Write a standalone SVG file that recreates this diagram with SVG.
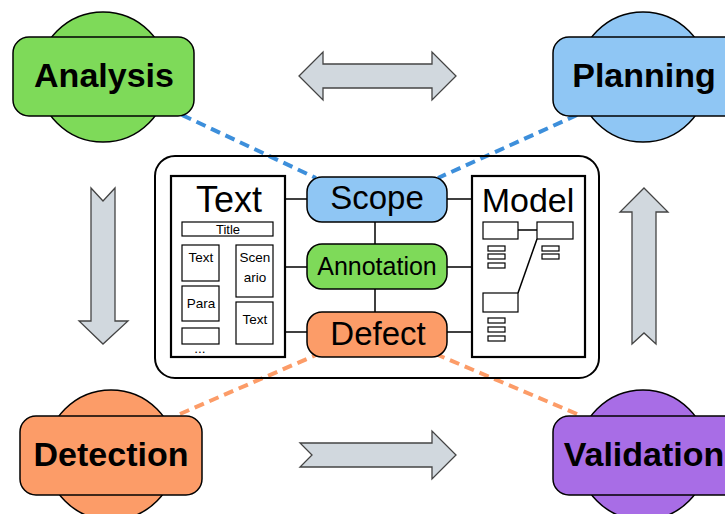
<svg xmlns="http://www.w3.org/2000/svg" width="725" height="514" viewBox="0 0 725 514">
  <style>
    .lbl { font-family: "Liberation Sans", Arial, sans-serif; fill: #000; text-anchor: middle; }
    .big { font-size: 34px; font-weight: bold; }
    .mid { font-size: 33px; }
    .small { font-size: 13.5px; }
    .edge { stroke: #000; stroke-width: 1.5; }
    .arrow { fill: #d1d8de; stroke: #444; stroke-width: 1.3; stroke-linejoin: miter; }
    .panel { fill: #fff; stroke: #000; stroke-width: 2.2; }
    .box { fill: #fff; stroke: #000; stroke-width: 1.2; }
    .dashB { stroke: #3d8fdb; stroke-width: 4; stroke-dasharray: 10 6; fill: none; }
    .dashO { stroke: #fc9c68; stroke-width: 4; stroke-dasharray: 10 6; fill: none; }
    .node { stroke: #000; stroke-width: 1.5; }
  </style>

  <!-- big grey flow arrows -->
  <g id="flow-arrows">
    <polygon class="arrow" points="299,76 323,52 323,64 432,64 432,52 456,76 432,100 432,88 323,88 323,100"/>
    <polygon class="arrow" points="91,188 103,201 115,188 115,321 128,321 103,344 79,321 91,321"/>
    <polygon class="arrow" points="300,443 432,443 432,431 456,455 432,479 432,467 300,467 312,455"/>
    <polygon class="arrow" points="644,188 668,212 656,212 656,344 644,333 632,344 632,212 620,212"/>
  </g>

  <!-- dashed links between the phases and the core -->
  <g id="connectors">
    <line class="dashB" x1="182" y1="115" x2="316" y2="178"/>
    <line class="dashB" x1="577" y1="115" x2="438" y2="178"/>
    <line class="dashO" x1="180" y1="414" x2="316" y2="355"/>
    <line class="dashO" x1="577" y1="414" x2="438" y2="355"/>
    <!-- inner links -->
    <line class="edge" x1="285" y1="199" x2="308" y2="199"/>
    <line class="edge" x1="285" y1="267" x2="308" y2="267"/>
    <line class="edge" x1="285" y1="332" x2="308" y2="332"/>
    <line class="edge" x1="446" y1="199" x2="472" y2="199"/>
    <line class="edge" x1="446" y1="267" x2="472" y2="267"/>
    <line class="edge" x1="446" y1="332" x2="472" y2="332"/>
    <line class="edge" x1="375" y1="222" x2="375" y2="244"/>
    <line class="edge" x1="375" y1="289" x2="375" y2="312"/>
  </g>

  <!-- phase nodes -->
  <g id="analysis">
    <circle class="node" cx="103" cy="77" r="65" fill="#7eda59"/>
    <rect class="node" x="13" y="37" width="181" height="79" rx="16" fill="#7eda59"/>
    <text class="lbl big" x="104" y="87">Analysis</text>
  </g>
  <g id="planning">
    <circle class="node" cx="643" cy="77" r="65" fill="#8fc6f4"/>
    <rect class="node" x="553" y="37" width="190" height="79" rx="16" fill="#8fc6f4"/>
    <text class="lbl big" x="644" y="87">Planning</text>
  </g>
  <g id="detection">
    <circle class="node" cx="111" cy="455" r="65" fill="#fc9c68"/>
    <rect class="node" x="20" y="416" width="182" height="79" rx="16" fill="#fc9c68"/>
    <text class="lbl big" x="111" y="466">Detection</text>
  </g>
  <g id="validation">
    <circle class="node" cx="643" cy="455" r="65" fill="#a86de6"/>
    <rect class="node" x="553" y="416" width="190" height="79" rx="16" fill="#a86de6"/>
    <text class="lbl big" x="644" y="466">Validation</text>
  </g>

  <!-- core container -->
  <g id="core">
    <rect x="155" y="156" width="444" height="222" rx="20" fill="none" stroke="#000" stroke-width="2"/>
  </g>

  <!-- text panel -->
  <g id="text-panel">
    <rect class="panel" x="171" y="176" width="114" height="181"/>
    <text class="lbl" x="229" y="212" font-size="36">Text</text>
    <rect class="box" x="182" y="222" width="91" height="14"/>
    <text class="lbl" x="228" y="234" font-size="13">Title</text>
    <rect class="box" x="182" y="245" width="37" height="36"/>
    <text class="lbl small" x="201" y="262">Text</text>
    <rect class="box" x="182" y="286" width="37" height="35"/>
    <text class="lbl small" x="201" y="308">Para</text>
    <rect class="box" x="182" y="328" width="37" height="16"/>
    <text class="lbl small" x="200" y="353">...</text>
    <rect class="box" x="236" y="245" width="37" height="52"/>
    <text class="lbl small" x="255" y="262">Scen</text>
    <text class="lbl small" x="255" y="282">ario</text>
    <rect class="box" x="236" y="302" width="37" height="42"/>
    <text class="lbl small" x="255" y="324">Text</text>
  </g>

  <!-- centre pills -->
  <g id="scope">
    <rect class="node" x="307" y="177" width="140" height="45" rx="15" fill="#8fc6f4"/>
    <text class="lbl mid" x="377" y="209">Scope</text>
  </g>
  <g id="annotation">
    <rect class="node" x="307" y="244" width="140" height="45" rx="15" fill="#7eda59"/>
    <text class="lbl" x="377" y="275" font-size="25">Annotation</text>
  </g>
  <g id="defect">
    <rect class="node" x="307" y="312" width="140" height="45" rx="15" fill="#fc9c68"/>
    <text class="lbl mid" x="378" y="345">Defect</text>
  </g>

  <!-- model panel -->
  <g id="model-panel">
    <rect class="panel" x="472" y="176" width="113" height="181"/>
    <text class="lbl" x="528" y="212" font-size="34">Model</text>
    <line class="edge" x1="518" y1="230" x2="537" y2="230" stroke-width="1.2"/>
    <line class="edge" x1="537" y1="239" x2="518" y2="293" stroke-width="1.2"/>
    <rect class="box" x="483" y="222" width="35" height="17"/>
    <rect class="box" x="537" y="222" width="36" height="17"/>
    <rect class="box" x="483" y="293" width="35" height="19"/>
    <rect class="box" x="488" y="246" width="17" height="5"/>
    <rect class="box" x="488" y="254" width="17" height="5"/>
    <rect class="box" x="488" y="263" width="17" height="5"/>
    <rect class="box" x="542" y="246" width="17" height="5"/>
    <rect class="box" x="542" y="254" width="17" height="5"/>
    <rect class="box" x="488" y="318" width="17" height="5"/>
    <rect class="box" x="488" y="327" width="17" height="5"/>
    <rect class="box" x="488" y="336" width="17" height="5"/>
  </g>
</svg>
